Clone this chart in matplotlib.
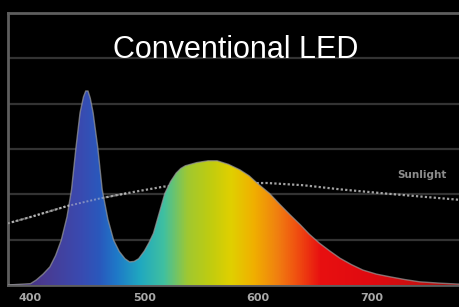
import matplotlib
matplotlib.use("Agg")
import matplotlib.pyplot as plt
import numpy as np
from matplotlib.colors import LinearSegmentedColormap
from matplotlib.patches import Polygon, Rectangle

# LED spectrum (wavelength nm, relative intensity in grid units)
led_wl = [380, 400, 405, 411, 417, 422, 427, 432, 436, 440, 443.5, 446.5, 448.5, 450.5,
          452.5, 455, 459, 463, 468, 473, 478, 483, 487, 491, 495, 500, 504, 508,
          513, 518, 523, 528, 532, 536, 546, 556, 564, 574, 584, 592, 599, 610,
          619, 628, 637, 645, 654, 663, 672, 682, 692, 704, 716, 729, 742, 760, 776.5]
led_val = [0.0, 0.03, 0.11, 0.24, 0.40, 0.65, 0.99, 1.50, 2.10, 3.05, 3.80, 4.15, 4.28, 4.28,
           4.12, 3.80, 3.05, 2.10, 1.45, 0.99, 0.74, 0.58, 0.51, 0.52, 0.58, 0.75, 0.93, 1.14,
           1.58, 2.02, 2.28, 2.47, 2.57, 2.63, 2.70, 2.74, 2.74, 2.66, 2.54, 2.41, 2.25, 2.02,
           1.78, 1.55, 1.33, 1.12, 0.92, 0.75, 0.59, 0.45, 0.33, 0.24, 0.18, 0.12, 0.07, 0.04, 0.02]

# sunlight reference curve (dotted)
sun_wl = [380, 400, 432, 461, 490, 517, 560, 608, 640, 672, 720, 776.5]
sun_val = [1.36, 1.50, 1.74, 1.91, 2.05, 2.17, 2.24, 2.25, 2.20, 2.11, 2.00, 1.88]

xticks = [400, 500, 600, 700]
title = "Conventional LED"
sun_label = "Sunlight"

# colour stops along the wavelength axis
stops = [(380, "#3a2a70"), (410, "#4a3a90"), (443, "#3a4ab0"), (460, "#2a58bc"),
         (475, "#1e78c8"), (496, "#20a8c0"), (517, "#40c0a0"), (538, "#a0c830"),
         (558, "#c0cc10"), (576, "#e0d000"), (596, "#f0b000"), (617, "#f08010"),
         (634, "#f05010"), (655, "#e81010"), (698, "#e00a10"), (740, "#c81010"),
         (776.5, "#a01010")]

xmin, xmax = 380.2, 776.5
ymin, ymax = 0, 6

fig = plt.figure(figsize=(4.59, 3.07), dpi=100, facecolor="black")
ax = fig.add_axes([8 / 459, 22 / 307, 1 - 8 / 459, 272 / 307])
ax.set_facecolor("black")

# horizontal grid
for y in range(1, 6):
    ax.axhline(y, color="#333333", lw=1.6, zorder=1)

# sunlight line, behind the spectrum
ax.plot(sun_wl, sun_val, color="#c0c0c0", lw=1.6, ls=(0, (1, 1)), alpha=0.85, zorder=2)

# gradient fill under the LED spectrum
s0, s1 = stops[0][0], stops[-1][0]
cmap = LinearSegmentedColormap.from_list(
    "spec", [((w - s0) / (s1 - s0), c) for w, c in stops])
grad = np.linspace(0, 1, 512).reshape(1, -1)
im = ax.imshow(grad, cmap=cmap, extent=[s0, s1, ymin, ymax], aspect="auto",
               origin="lower", zorder=3, interpolation="bilinear")
verts = list(zip(led_wl, led_val)) + [(led_wl[-1], 0), (led_wl[0], 0)]
poly = Polygon(verts, closed=True, facecolor="none", edgecolor="none")
ax.add_patch(poly)
im.set_clip_path(poly)
ax.plot(led_wl, led_val, color="#9a9a9a", lw=1, alpha=0.7, zorder=4)

# dotted line shows faintly through the blue peak
top, = ax.plot(sun_wl, sun_val, color="#d0d0d0", lw=1.4, ls=(0, (1, 1)), alpha=0.5, zorder=5)
top.set_clip_path(Rectangle((xmin, 0), 485 - xmin, 6, transform=ax.transData))

ax.text(744, 2.43, sun_label, color="#8c8c8c", fontsize=7.5, fontweight="bold",
        ha="center", va="center", zorder=6)

ax.set_xlim(xmin, xmax)
ax.set_ylim(ymin, ymax)
ax.set_yticks([])
ax.set_xticks(xticks)
ax.set_xticklabels([str(t) for t in xticks])
ax.tick_params(axis="x", length=0, pad=6, labelcolor="#a8a8a8", labelsize=8)
for lbl in ax.get_xticklabels():
    lbl.set_fontweight("bold")

for side in ["left", "top", "bottom"]:
    ax.spines[side].set_color("#5e5e5e")
    ax.spines[side].set_linewidth(2)
ax.spines["right"].set_visible(False)

fig.text(236 / 459, 1 - 50 / 307, title, color="white", fontsize=22,
         family="Liberation Sans", ha="center", va="center")

fig.savefig("out.png", dpi=100, facecolor="black")
